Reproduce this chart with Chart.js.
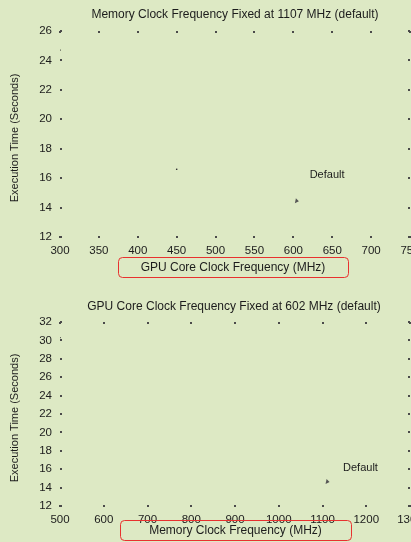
<!DOCTYPE html>
<html>
<head>
<meta charset="utf-8">
<script src="https://cdn.jsdelivr.net/npm/chart.js@4.4.1/dist/chart.umd.min.js"></script>
<style>
  html, body { margin: 0; padding: 0; background: #dde9c4; }
  #wrap { position: relative; width: 411px; height: 542px; overflow: hidden; }
  canvas { position: absolute; left: 0; }
</style>
</head>
<body>
<div id="wrap">
  <canvas id="top" width="411" height="283" style="top:0"></canvas>
  <canvas id="bottom" width="411" height="259" style="top:283px"></canvas>
</div>
<script>
// top panel: GPU core clock sweep
const coreTitle = 'Memory Clock Frequency Fixed at 1107 MHz (default)';
const coreXLabel = 'GPU Core Clock Frequency (MHz)';
const corePoints = [{ x: 450, y: 16.6 }, { x: 300, y: 24.7 }];
const coreDefault = { x: 602, y: 14.3, label: 'Default', tx: 621, ty: 16.2 };
const coreX = { min: 300, max: 750, step: 50 };
const coreY = { min: 12, max: 26, step: 2 };

// bottom panel: memory clock sweep
const memTitle = 'GPU Core Clock Frequency Fixed at 602 MHz (default)';
const memXLabel = 'Memory Clock Frequency (MHz)';
const memPoints = [{ x: 500, y: 30.3 }];
const memDefault = { x: 1107, y: 14.4, label: 'Default', tx: 1147, ty: 16.1 };
const memX = { min: 500, max: 1300, step: 100 };
const memY = { min: 12, max: 32, step: 2 };

const yLabel = 'Execution Time (Seconds)';
const FONT = '"Liberation Sans", Arial, sans-serif';
const INK = '#1c1c1c';

const decor = {
  id: 'decor',
  afterDraw(chart, args, o) {
    const { ctx, chartArea: a, scales: { x, y } } = chart;
    ctx.save();
    // inward tick marks on all four sides
    ctx.fillStyle = '#4a4a4a';
    x.ticks.forEach(t => {
      const px = Math.round(x.getPixelForValue(t.value));
      ctx.fillRect(px - 1, a.top, 2, 2);
      ctx.fillRect(px - 1, a.bottom - 1, 2, 2);
    });
    y.ticks.forEach(t => {
      const py = Math.round(y.getPixelForValue(t.value));
      ctx.fillRect(a.left, py - 1, 2, 2);
      ctx.fillRect(a.right - 2, py - 1, 2, 2);
    });

    ctx.fillStyle = INK;
    ctx.textAlign = 'center';
    ctx.textBaseline = 'middle';
    ctx.font = '12px ' + FONT;
    ctx.fillText(o.title, o.titleX, o.titleY);

    // y axis title
    ctx.save();
    ctx.font = '11px ' + FONT;
    ctx.translate(15, (a.top + a.bottom) / 2 + 4);
    ctx.rotate(-Math.PI / 2);
    ctx.fillText(yLabel, 0, 0);
    ctx.restore();

    // x axis title in a red rounded box
    const b = o.box;
    ctx.strokeStyle = '#e8312f';
    ctx.lineWidth = 1;
    ctx.beginPath();
    ctx.roundRect(b[0] + 0.5, b[1] + 0.5, b[2], b[3], 4);
    ctx.stroke();
    ctx.fillText(o.xLabel, b[0] + b[2] / 2, b[1] + b[3] / 2 + 1);

    // "Default" annotation
    const d = o.def;
    ctx.font = '11px ' + FONT;
    ctx.textAlign = 'left';
    ctx.fillText(d.label, x.getPixelForValue(d.tx), y.getPixelForValue(d.ty));
    const hx = x.getPixelForValue(d.x), hy = y.getPixelForValue(d.y);
    ctx.fillStyle = '#555';
    ctx.beginPath();
    ctx.moveTo(hx, hy);
    ctx.lineTo(hx + 1, hy - 5);
    ctx.lineTo(hx + 4, hy - 2);
    ctx.closePath();
    ctx.fill();
    ctx.restore();
  }
};

function makeChart(id, pts, xr, yr, pad, xh, opts) {
  const tickFont = { family: FONT, size: 11.5 };
  return new Chart(document.getElementById(id), {
    type: 'scatter',
    data: {
      datasets: [{
        data: pts,
        pointStyle: 'rect',
        pointRadius: 1,
        pointBorderWidth: 0,
        pointBackgroundColor: '#333',
        showLine: false
      }]
    },
    options: {
      responsive: false,
      animation: false,
      layout: { autoPadding: false, padding: { top: pad, left: 0, right: 1, bottom: 0 } },
      plugins: { legend: { display: false }, tooltip: { enabled: false }, decor: opts },
      scales: {
        x: {
          type: 'linear', min: xr.min, max: xr.max,
          grid: { display: false, drawTicks: false },
          border: { display: false },
          ticks: { stepSize: xr.step, padding: 7, color: INK, font: tickFont, maxRotation: 0, callback: v => String(v) },
          afterFit(s) { s.height = xh; s.paddingLeft = 0; s.paddingRight = 0; }
        },
        y: {
          min: yr.min, max: yr.max,
          grid: { display: false, drawTicks: false },
          border: { display: false },
          ticks: { stepSize: yr.step, padding: 8, color: INK, font: tickFont, callback: v => String(v) },
          afterFit(s) { s.width = 60; s.paddingTop = 0; s.paddingBottom = 0; }
        }
      }
    },
    plugins: [decor]
  });
}

makeChart('top', corePoints, coreX, coreY, 31, 46, {
  title: coreTitle, titleX: 235, titleY: 15,
  xLabel: coreXLabel, box: [118, 257, 230, 20], def: coreDefault
});
makeChart('bottom', memPoints, memX, memY, 39, 36, {
  title: memTitle, titleX: 234, titleY: 24,
  xLabel: memXLabel, box: [120, 237, 231, 20], def: memDefault
});
</script>
</body>
</html>
